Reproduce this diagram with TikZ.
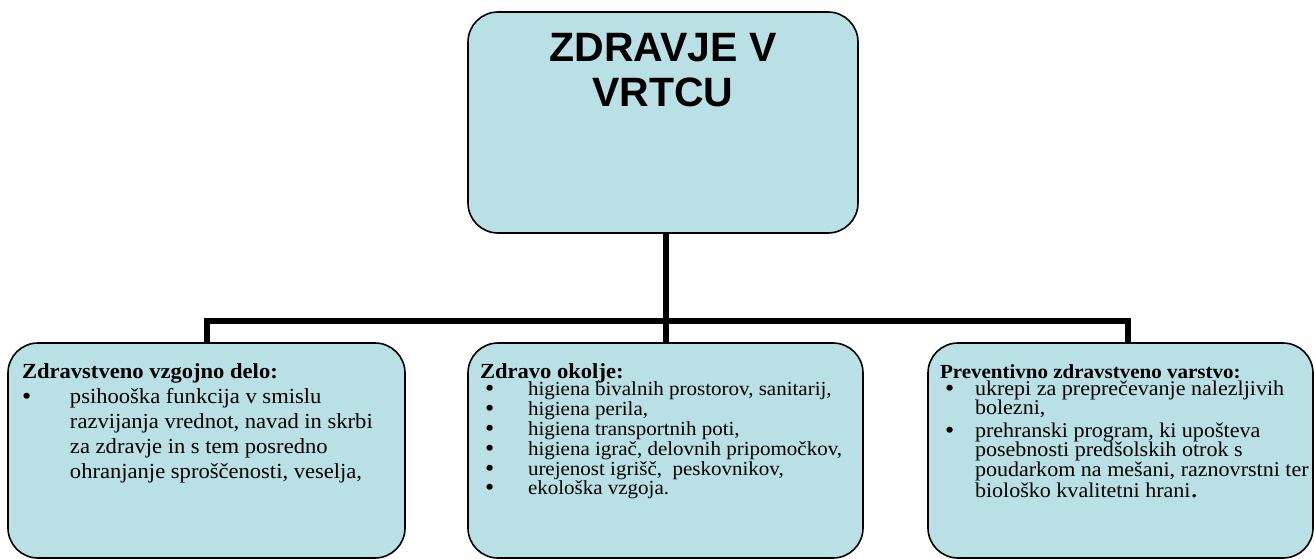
\documentclass[tikz,border=0pt]{standalone}
\usepackage{fontspec}
\setmainfont{Liberation Serif}[FakeStretch=1.05]
\newfontfamily\titlefont{Liberation Sans}
\definecolor{boxfill}{RGB}{185,224,228}
\newcommand{\bdot}{\smash{\raisebox{-1pt}{\fontsize{25}{0}\selectfont\textbullet}}}
\newcommand{\bitem}[3]{\par\noindent\hangindent=#2\hangafter=1\makebox[#2][l]{\hspace*{#1}\bdot}#3\par}
\newcommand{\boxhead}[2]{\noindent\hspace*{#1}\rule{0pt}{35pt}\textbf{#2}\par}
\tikzset{
	treebox/.style={draw=black,line width=1.6pt,fill=boxfill,rounded corners=30pt,inner sep=0pt},
	branch/.style={line width=6pt,line join=miter}
}
\begin{document}
\begin{tikzpicture}[x=1pt,y=-1pt]
	\useasboundingbox (0,0) rectangle (1314,559);
	\node[treebox] (top) at (663,122.5) {\begin{minipage}[c][221pt][t]{390pt}\centering
		\titlefont\bfseries\fontsize{41}{45}\selectfont\rule{0pt}{50pt}ZDRAVJE V\\VRTCU\end{minipage}};
	\node[treebox] (left) at (206.5,450.5) {\begin{minipage}[c][215pt][t]{397pt}
		\fontsize{21.5}{25}\selectfont\rightskip=-60pt plus 1fil
		\boxhead{14pt}{Zdravstveno vzgojno delo:}
		\bitem{14pt}{62pt}{psihooška funkcija v smislu\\razvijanja vrednot, navad in skrbi\\za zdravje in s tem posredno\\ohranjanje sproščenosti, veselja,}
		\end{minipage}};
	\node[treebox] (mid) at (665.5,450.5) {\begin{minipage}[c][215pt][t]{395pt}
		\fontsize{20}{19.8}\selectfont\rightskip=-60pt plus 1fil
		\boxhead{12pt}{\fontsize{21.5}{19.8}\selectfont Zdravo okolje:}
		\vspace{-2pt}
		\bitem{17pt}{60pt}{higiena bivalnih prostorov, sanitarij,}
		\bitem{17pt}{60pt}{higiena perila,}
		\bitem{17pt}{60pt}{higiena transportnih poti,}
		\bitem{17pt}{60pt}{higiena igrač, delovnih pripomočkov,}
		\bitem{17pt}{60pt}{urejenost igrišč,\ \ peskovnikov,}
		\bitem{17pt}{60pt}{ekološka vzgoja.}
		\end{minipage}};
	\node[treebox] (right) at (1120.5,450.5) {\begin{minipage}[c][215pt][t]{385pt}
		\fontsize{21}{19.2}\selectfont\rightskip=-60pt plus 1fil
		\boxhead{12pt}{\fontsize{20}{19.2}\selectfont Preventivno zdravstveno varstvo:}
		\vspace{-2pt}
		\bitem{17pt}{47pt}{ukrepi za preprečevanje nalezljivih\\bolezni,}
		\vspace{4pt}
		\bitem{17pt}{47pt}{prehranski program, ki upošteva\\posebnosti predšolskih otrok s\\poudarkom na mešani, raznovrstni ter\\[2pt]biološko kvalitetni hrani{\fontsize{28}{19}\selectfont .}}
		\end{minipage}};
	% branches
	\coordinate (barY) at (0,321);
	\coordinate (bar) at (mid.north |- barY);
	\draw[branch] (mid.north) -- (mid.north |- top.south);
	\draw[branch] (left.north) |- (bar) -| ([xshift=7.5pt]right.north);
\end{tikzpicture}
\end{document}
